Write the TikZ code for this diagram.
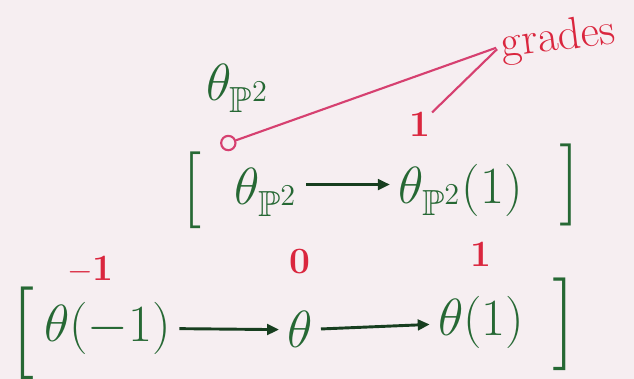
\documentclass[tikz,border=0pt]{standalone}
\usepackage{amssymb}
\usetikzlibrary{arrows.meta,positioning}
\definecolor{paper}{RGB}{246,238,241}
\definecolor{ink}{RGB}{38,104,52}
\definecolor{gradered}{RGB}{218,38,62}
\definecolor{gradepink}{RGB}{214,64,112}

\begin{document}
\begin{tikzpicture}[>={Triangle[length=9pt,width=8pt]},font=\small]
\tikzstyle{term}=[text=ink,inner sep=1pt,font=\huge,scale=1.9]
\tikzstyle{brk}=[text=ink,inner sep=0pt,font=\fontsize{58}{62}\selectfont]
\tikzstyle{grd}=[text=gradered,inner sep=1pt,font=\fontsize{28}{30}\selectfont\bfseries]
\tikzstyle{arr}=[->,line width=2.2pt,draw=ink!60!black,shorten <=4pt,shorten >=4pt]
\fill[paper] (0,0) rectangle (16.8,10.04);
\useasboundingbox (0,0) rectangle (16.8,10.04);
% sheaf on the projective plane
\node[term] (lab) at (6.3,7.7) {$\theta_{\mathbb{P}^2}$};
\node[text=gradered,font=\fontsize{34}{36}\selectfont,rotate=7,inner sep=1pt] (grades) at (14.8,9.0) {grades};
% top row
\node[brk] (tl) at (5.1,5.0) {[};
\node[term] (tp) at (7.05,4.95) {$\theta_{\mathbb{P}^2}$};
\node[term] (tq) at (12.2,5.0) {$\theta_{\mathbb{P}^2}(1)$};
\node[brk,font=\fontsize{62}{66}\selectfont] (tr) at (15.1,5.15) {]};
\draw[arr] (tp.east |- 0,5.15) -- (tq.west |- 0,5.15);
\node[circle,draw=gradepink,line width=1.6pt,minimum size=0.38cm,inner sep=0pt] (c0) at (6.05,6.25) {};
\node[grd] (g1) at (11.13,6.75) {1};
\draw[gradepink,line width=1.6pt,shorten >=3pt] (c0) -- (grades.west);
\draw[gradepink,line width=1.6pt,shorten >=3pt] (g1) -- (grades.west);
% bottom row
\node[brk,font=\fontsize{70}{74}\selectfont] (bl) at (0.6,1.2) {[};
\node[term] (bm) at (2.85,1.35) {$\theta(-1)$};
\node[term] (bz) at (7.95,1.3) {$\theta$};
\node[term] (bp) at (12.75,1.5) {$\theta(1)$};
\node[brk,font=\fontsize{70}{74}\selectfont] (br) at (14.95,1.45) {]};
\draw[arr] (bm) -- (bz);
\draw[arr] (bz) -- (bp);
\node[grd] at (2.4,2.9) {$-$1};
\node[grd] at (7.95,3.1) {0};
\node[grd] at (12.75,3.3) {1};
\end{tikzpicture}
\end{document}
